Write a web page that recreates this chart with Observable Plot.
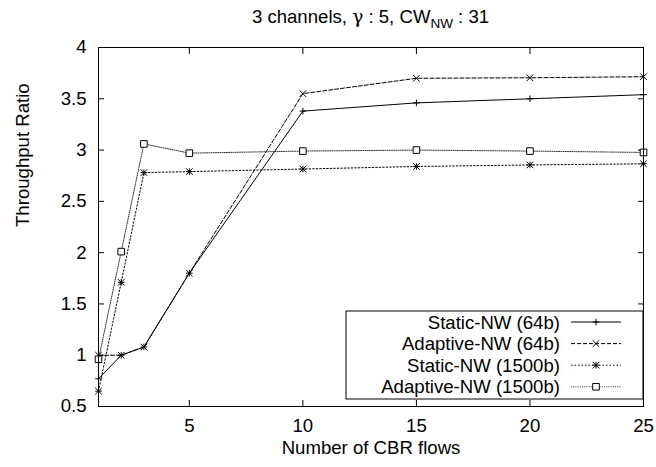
<!DOCTYPE html>
<html>
<head>
<meta charset="utf-8">
<script src="https://cdn.jsdelivr.net/npm/d3@7"></script>
<script src="https://cdn.jsdelivr.net/npm/@observablehq/plot@0.6"></script>
<style>
  html, body { margin: 0; padding: 0; background: #fff; }
  #chart svg { display: block; }
</style>
</head>
<body>
<div id="chart"></div>
<script>
// ---- data ----
const flows = [1, 2, 3, 5, 10, 15, 20, 25];
const staticNW64 = [0.77, 1.0, 1.08, 1.8, 3.38, 3.46, 3.50, 3.54];
const adaptiveNW64 = [1.0, 1.0, 1.08, 1.8, 3.55, 3.70, 3.705, 3.715];
const staticNW1500 = [0.65, 1.71, 2.78, 2.79, 2.815, 2.84, 2.855, 2.866];
const adaptiveNW1500 = [0.96, 2.01, 3.06, 2.97, 2.99, 3.0, 2.99, 2.977];
const seriesNames = ["Static-NW (64b)", "Adaptive-NW (64b)", "Static-NW (1500b)", "Adaptive-NW (1500b)"];
const xTicks = [5, 10, 15, 20, 25];
const yTicks = [0.5, 1, 1.5, 2, 2.5, 3, 3.5, 4];
const titleA = "3 channels, ";
const titleGamma = "\u03b3";
const titleB = " : 5, CW";
const titleSub = "NW";
const titleEnd = " : 31";
const xLabel = "Number of CBR flows";
const yLabel = "Throughput Ratio";

// ---- symbols (gnuplot-like) ----
const R = (size) => Math.sqrt(size / Math.PI);
const plusSym = {draw(c, s) { const r = R(s); c.moveTo(-r, 0); c.lineTo(r, 0); c.moveTo(0, -r); c.lineTo(0, r); }};
const crossSym = {draw(c, s) { const r = R(s); c.moveTo(-r, -r); c.lineTo(r, r); c.moveTo(-r, r); c.lineTo(r, -r); }};
const starSym = {draw(c, s) { plusSym.draw(c, s); crossSym.draw(c, s); }};
const squareSym = {draw(c, s) { const r = R(s); c.moveTo(-r, -r); c.lineTo(r, -r); c.lineTo(r, r); c.lineTo(-r, r); c.closePath(); }};

const seriesValues = [staticNW64, adaptiveNW64, staticNW1500, adaptiveNW1500];
const seriesSymbols = [plusSym, crossSym, starSym, squareSym];
const seriesDash = [null, "4,2", "1.5,2", "1,1.2"];
const seriesStroke = ["black", "black", "black", "#333"];

const rows = seriesNames.flatMap((name, i) => flows.map((f, j) => ({series: name, x: f, y: seriesValues[i][j]})));

const W = 656, H = 467;
const ML = 98, MR = 13, MT = 47, MB = 61;
const FONT = "'Liberation Sans', Arial, Helvetica, sans-serif";
const FS = 18.6;

const marks = [];
seriesNames.forEach((name, i) => {
  const d = rows.filter(r => r.series === name);
  marks.push(Plot.line(d, {x: "x", y: "y", stroke: seriesStroke[i], strokeWidth: 1, strokeDasharray: seriesDash[i]}));
  marks.push(Plot.dot(d, {x: "x", y: "y", r: 3.3, symbol: seriesSymbols[i], stroke: "black", fill: seriesSymbols[i] === squareSym ? "white" : "none", strokeWidth: 1}));
});

const plot = Plot.plot({
  width: W,
  height: H,
  marginLeft: ML,
  marginRight: MR,
  marginTop: MT,
  marginBottom: MB,
  style: {fontFamily: FONT, fontSize: FS + "px", background: "white", color: "black"},
  x: {domain: [1, 25]},
  y: {domain: [0.5, 4]},
  marks: [
    Plot.axisX(xTicks, {anchor: "bottom", tickSize: -6, tickFormat: () => "", label: null}),
    Plot.axisX(xTicks, {anchor: "top", tickSize: -6, tickFormat: () => "", label: null}),
    Plot.axisX(xTicks, {anchor: "bottom", tickSize: 0, tickPadding: 12, tickFormat: d => String(d), label: null}),
    Plot.axisY(yTicks, {anchor: "left", tickSize: -6, tickFormat: () => "", label: null}),
    Plot.axisY(yTicks, {anchor: "right", tickSize: -6, tickFormat: () => "", label: null}),
    Plot.axisY(yTicks, {anchor: "left", tickSize: 0, tickPadding: 12, tickFormat: d => String(d), label: null}),
    ...marks,
    Plot.frame({stroke: "black", strokeWidth: 1}),
    Plot.text([xLabel], {text: d => d, frameAnchor: "bottom", dy: 47, fontSize: FS}),
    Plot.text([yLabel], {text: d => d, frameAnchor: "left", rotate: -90, dx: -75, fontSize: FS})
  ]
});

document.getElementById("chart").appendChild(plot);

const svg = d3.select(plot);

// title with subscript
const t = svg.append("text")
  .attr("x", ML + (W - ML - MR) / 2)
  .attr("y", 23)
  .attr("text-anchor", "middle")
  .attr("font-family", FONT)
  .attr("font-size", FS)
  .attr("fill", "black");
t.append("tspan").text(titleA);
t.append("tspan").attr("font-family", "'DejaVu Serif', serif").attr("font-style", "normal").text(titleGamma);
t.append("tspan").text(titleB);
t.append("tspan").attr("dy", 5).attr("font-size", 13.5).text(titleSub);
t.append("tspan").attr("dy", -5).text(titleEnd);

// legend (key) inside plot, bottom-right
const keyLeft = 346, keyTop = 311, keyRight = W - MR, keyBottom = 399;
const lg = svg.append("g");
lg.append("rect")
  .attr("x", keyLeft).attr("y", keyTop)
  .attr("width", keyRight - keyLeft).attr("height", keyBottom - keyTop)
  .attr("fill", "white").attr("stroke", "black").attr("stroke-width", 1);
const rowH = 21.6, row0 = 322;
seriesNames.forEach((name, i) => {
  const cy = row0 + i * rowH;
  lg.append("text")
    .attr("x", 560).attr("y", cy + 6.6)
    .attr("text-anchor", "end")
    .attr("font-family", FONT).attr("font-size", FS).attr("fill", "black")
    .text(name);
  lg.append("line")
    .attr("x1", 571).attr("x2", 621).attr("y1", cy).attr("y2", cy)
    .attr("stroke", seriesStroke[i]).attr("stroke-width", 1)
    .attr("stroke-dasharray", seriesDash[i]);
  lg.append("path")
    .attr("transform", `translate(596,${cy})`)
    .attr("d", d3.symbol(seriesSymbols[i], Math.PI * 3.3 * 3.3)())
    .attr("stroke", "black").attr("stroke-width", 1)
    .attr("fill", seriesSymbols[i] === squareSym ? "white" : "none");
});
</script>
</body>
</html>
